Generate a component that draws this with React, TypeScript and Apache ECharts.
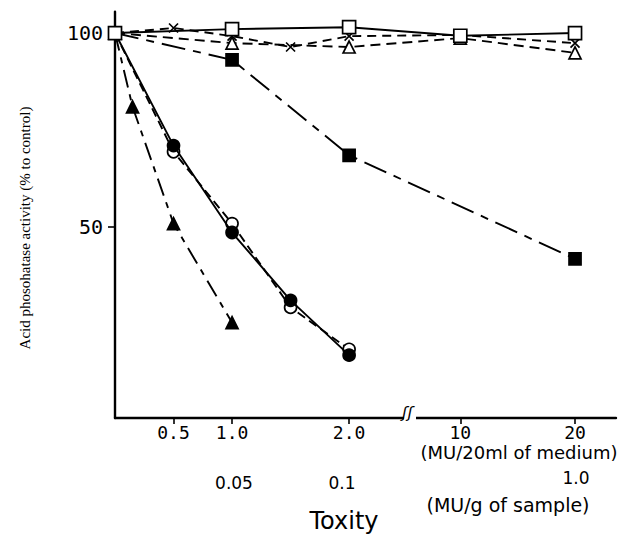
import React, { useEffect, useRef } from "react";
import * as echarts from "echarts";

// x positions on the drawn axis (0.5, 1.0, 2.0 MU linear; 10 and 20 MU placed after the break)
const tickPositions = [0.5, 1, 2, 2.95, 3.93];
const tickLabels = ["0.5", "1.0", "2.0", "10", "20"];

// Series: [axis position, % to control]
const openSquare = [[0, 100], [1, 101], [2, 101.5], [2.95, 99.3], [3.93, 100]];
const crosses = [[0, 100], [0.5, 101.3], [1, 99.2], [1.5, 96.4], [2, 99.2], [2.95, 99.5], [3.93, 97.4]];
const openTriangle = [[0, 100], [1, 97.4], [2, 96.4], [2.95, 98.7], [3.93, 94.9]];
const filledSquare = [[0, 100], [1, 93.1], [2, 68.5], [3.93, 41.8]];
const filledCircle = [[0, 100], [0.5, 71], [1, 48.6], [1.5, 31.1], [2, 17]];
const openCircle = [[0, 100], [0.5, 69.4], [1, 50.9], [1.5, 29.3], [2, 18.5]];
const filledTriangle = [[0, 100], [0.15, 81], [0.5, 50.9], [1, 25.4]];

const yTicks = [50, 100];

export default function App() {
  const ref = useRef<HTMLDivElement>(null);
  useEffect(() => {
    const chart = echarts.init(ref.current!, undefined, { renderer: "svg" });
    const black = "#000";
    const lineSeries = (
      data: number[][],
      symbol: string,
      symbolSize: number,
      fill: string,
      lineType: any,
      z: number
    ) => ({
      type: "line",
      data,
      symbol,
      symbolSize,
      showAllSymbol: true,
      z,
      lineStyle: { color: black, width: 1.9, type: lineType },
      itemStyle: { color: fill, borderColor: black, borderWidth: 1.7 },
      emphasis: { disabled: true },
    });
    const mid = { textAlign: "center", textVerticalAlign: "middle", fill: black };
    const option: any = {
      animation: false,
      backgroundColor: "#fff",
      grid: { left: 115, right: 21, top: 11.7, bottom: 122, containLabel: false },
      xAxis: {
        type: "value",
        min: 0,
        max: 4.28,
        splitLine: { show: false },
        axisLine: { lineStyle: { color: black, width: 2.4 } },
        axisTick: {
          customValues: tickPositions,
          length: 6,
          lineStyle: { color: black, width: 1.6 },
        },
        axisLabel: {
          customValues: tickPositions,
          formatter: (v: number) => {
            const i = tickPositions.indexOf(v);
            return i >= 0 ? tickLabels[i] : "";
          },
          color: black,
          fontFamily: "DejaVu Sans Mono",
          fontSize: 18,
          margin: 5,
        },
      },
      yAxis: {
        type: "value",
        min: 0.8,
        max: 105.5,
        splitLine: { show: false },
        axisLine: { lineStyle: { color: black, width: 2.4 } },
        axisTick: {
          customValues: yTicks,
          length: 7,
          lineStyle: { color: black, width: 1.6 },
        },
        axisLabel: {
          customValues: yTicks,
          color: black,
          fontFamily: "DejaVu Sans Mono",
          fontSize: 20,
          margin: 12,
        },
      },
      series: [
        lineSeries(filledTriangle, "triangle", 12, black, [18, 7, 6, 7], 3),
        lineSeries(openCircle, "circle", 12, "#fff", [9, 5], 3),
        lineSeries(filledCircle, "circle", 12, black, "solid", 4),
        lineSeries(filledSquare, "rect", 12, black, [24, 8, 8, 8], 3),
        lineSeries(openTriangle, "triangle", 12, "#fff", [10, 6], 4),
        lineSeries(crosses, "path://M0,0L10,10M10,0L0,10", 9, black, [9, 6], 5),
        lineSeries(openSquare, "rect", 13, "#fff", "solid", 6),
      ],
      graphic: [
        {
          type: "text",
          x: 25,
          y: 228,
          rotation: Math.PI / 2,
          style: { ...mid, text: "Acid phosohatase activity (% to control)", font: "15px Liberation Serif" },
        },
        { type: "rect", shape: { x: 404, y: 410, width: 12, height: 14 }, style: { fill: "#fff" }, z: 100 },
        { type: "text", x: 402, y: 404, style: { text: "ʃʃ", font: "italic 16px DejaVu Sans", fill: black }, z: 101 },
        { type: "text", x: 519, y: 452, style: { ...mid, text: "(MU/20ml of medium)", font: "18px DejaVu Sans" } },
        { type: "text", x: 234, y: 483, style: { ...mid, text: "0.05", font: "17px DejaVu Sans" } },
        { type: "text", x: 342, y: 483, style: { ...mid, text: "0.1", font: "17px DejaVu Sans" } },
        { type: "text", x: 576, y: 478, style: { ...mid, text: "1.0", font: "17px DejaVu Sans" } },
        { type: "text", x: 508, y: 505, style: { ...mid, text: "(MU/g of sample)", font: "19px DejaVu Sans" } },
        { type: "text", x: 344, y: 521, style: { ...mid, text: "Toxity", font: "24px DejaVu Sans" } },
      ],
    };
    chart.setOption(option);
    return () => chart.dispose();
  }, []);
  return (
    <div
      ref={ref}
      style={{ position: "absolute", left: 0, top: 0, width: 637, height: 540 }}
    />
  );
}
